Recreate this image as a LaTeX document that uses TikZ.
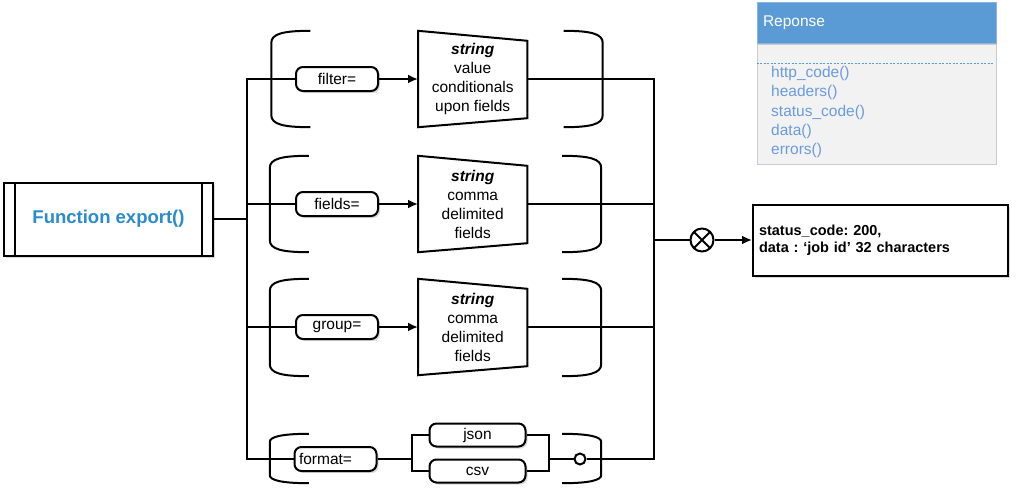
\documentclass[tikz,border=0pt]{standalone}
\usepackage{fontspec}
\setmainfont{Liberation Sans}
\usetikzlibrary{arrows.meta, positioning, shadows}

\definecolor{fnblue}{HTML}{2A8BCF}
\definecolor{hdrblue}{HTML}{5B9BD5}
\definecolor{hdredge}{HTML}{8DB3DF}
\definecolor{methblue}{HTML}{6A9BDF}
\definecolor{bodygray}{HTML}{F2F2F2}
\definecolor{bodyedge}{HTML}{C9CDD3}
\frenchspacing

\begin{document}
\begin{tikzpicture}[x=1pt, y=-1pt, >={Latex[length=10pt,width=9pt]},
    font=\fontsize{15.5}{19}\selectfont,
    wire/.style={line width=2pt},
    shade/.style={drop shadow={opacity=0.3, shadow xshift=2pt, shadow yshift=-2pt}},
    kw/.style={draw, wire, fill=white, rounded corners=7pt, minimum width=82pt,
               minimum height=24pt, inner sep=0pt, shade},
    param/.style={minimum width=109pt, minimum height=96pt, inner sep=0pt, align=center},
    grp/.style={minimum width=331pt, inner sep=0pt},
    fnbox/.style={draw, wire, fill=white, minimum width=209pt, minimum height=73pt,
                  text=fnblue, font=\bfseries\fontsize{18.5}{22}\selectfont, shade},
    outbox/.style={draw, wire, fill=white, minimum width=255pt, minimum height=71pt,
                   text width=243pt, align=left, inner sep=6pt, shade,
                   font=\bfseries\fontsize{14.5}{17.3}\selectfont},
    xor/.style={circle, draw, wire, fill=white, minimum size=23pt, inner sep=0pt,
                path picture={\draw[wire] (path picture bounding box.north west) -- (path picture bounding box.south east)
                                          (path picture bounding box.north east) -- (path picture bounding box.south west);}},
    ring/.style={circle, draw, wire, fill=white, minimum size=11pt, inner sep=0pt},
    hdr/.style={fill=hdrblue, draw=hdredge, line width=1pt, minimum width=239pt, minimum height=41pt,
                text width=227pt, align=left, inner sep=6pt, text=white},
    body/.style={fill=bodygray, draw=bodyedge, line width=1pt, minimum width=239pt, minimum height=120pt},
    meth/.style={text=methblue, align=left, inner sep=0pt, font=\fontsize{15.5}{19.3}\selectfont}]
  \useasboundingbox (0,0) rectangle (1018,493);

  % Bus lines
  \coordinate (bl) at (247,0);
  \coordinate (br) at (654,0);
  \coordinate (fs) at (412,459);
  \coordinate (fj) at (549,459);

  % Option groups
  \node[grp, minimum height=96pt] (g1) at (437,79)    {};
  \node[grp, minimum height=96pt] (g2) at (435.5,204) {};
  \node[grp, minimum height=97pt] (g3) at (435.5,327.5) {};
  \node[grp, minimum height=49pt] (g4) at (435.5,458.5) {};
  \foreach \g/\c in {g1/12, g2/12, g3/12, g4/8} {
    \draw[wire] ([xshift=39pt]\g.north west) .. controls ([xshift=12pt]\g.north west) and ([yshift=-3pt]\g.north west) .. ([yshift=-\c pt]\g.north west)
                -- ([yshift=\c pt]\g.south west) .. controls ([yshift=3pt]\g.south west) and ([xshift=12pt]\g.south west) .. ([xshift=39pt]\g.south west);
    \draw[wire] ([xshift=-39pt]\g.north east) .. controls ([xshift=-12pt]\g.north east) and ([yshift=-3pt]\g.north east) .. ([yshift=-\c pt]\g.north east)
                -- ([yshift=\c pt]\g.south east) .. controls ([yshift=3pt]\g.south east) and ([xshift=-12pt]\g.south east) .. ([xshift=-39pt]\g.south east);
  }

  % Function and parameters
  \node[fnbox] (func) at (108.5,219) {Function export()};
  \node[kw] (filter) at (337,79)  {filter=};
  \node[kw] (fields) at (337,204) {fields=};
  \node[kw] (group)  at (337,327) {group=};
  \node[kw, text width=73pt, align=left] (format) at (335.5,459) {format=};
  \node[param, right=39pt of filter] (pfilter) {\textbf{\textit{string}}\\value\\conditionals\\upon fields};
  \node[param, right=39pt of fields] (pfields) {\textbf{\textit{string}}\\comma\\delimited\\fields};
  \node[param, right=39pt of group]  (pgroup)  {\textbf{\textit{string}}\\comma\\delimited\\fields};
  \node[kw, minimum width=96pt, minimum height=23pt] (json) at (477.5,435) {json};
  \node[kw, minimum width=96pt, minimum height=23pt] (csv)  at (477.5,471) {csv};
  \foreach \p in {pfilter, pfields, pgroup}
    \draw[wire] (\p.north west) -- ([yshift=-10pt]\p.north east) -- ([yshift=9pt]\p.south east) -- (\p.south west) -- cycle;
  \draw[wire] ([xshift=12pt]func.north west) -- ([xshift=12pt]func.south west)
              ([xshift=-12pt]func.north east) -- ([xshift=-12pt]func.south east);

  % Result
  \node[ring] (opt) at (580,459) {};
  \node[xor] (merge) at (702,240) {};
  \node[outbox] (out) at (880.5,240) {status\_code: 200,\\data : `job id' 32 characters};

  % Reponse class
  \node[hdr] (resp) at (876.5,22.5) {Reponse};
  \node[body, below=0pt of resp] (respbody) {};
  \draw[hdrblue, line width=0.8pt, dash pattern=on 2pt off 1.5pt]
    ([yshift=-20pt]respbody.north west) -- ([yshift=-20pt,xshift=-3pt]respbody.north east);
  \node[meth, anchor=west] (methods) at (771,112) {http\_code()\\headers()\\status\_code()\\data()\\errors()};

  % Connectors
  \draw[wire] (func) -- (func -| bl);
  \draw[wire] (filter) -- (filter -| bl) -- (format -| bl) -- (format);
  \draw[wire] (fields) -- (fields -| bl);
  \draw[wire] (group) -- (group -| bl);
  \path[wire, ->] (filter) edge (pfilter)
                  (fields) edge (pfields)
                  (group)  edge (pgroup);
  \draw[wire] (format) -- (fs) |- (json);
  \draw[wire] (fs) |- (csv);
  \draw[wire] (json) -| (fj);
  \draw[wire] (csv) -| (fj);
  \draw[wire] (fj) -- (opt);
  \draw[wire] (opt) -- (opt -| br) -- (pfilter -| br) -- (pfilter);
  \draw[wire] (pfields) -- (pfields -| br);
  \draw[wire] (pgroup) -- (pgroup -| br);
  \draw[wire] (merge -| br) -- (merge);
  \draw[wire, ->] (merge) -- (merge -| out.west);
\end{tikzpicture}
\end{document}
